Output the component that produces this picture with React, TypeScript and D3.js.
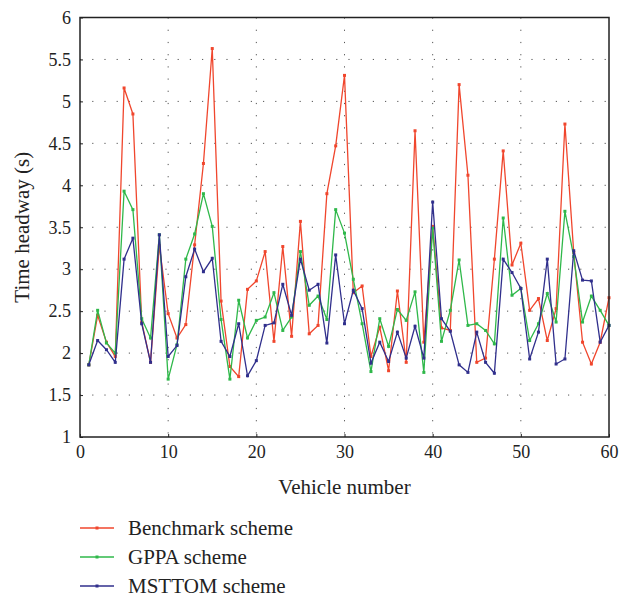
import React, { useEffect, useRef } from 'react';
import * as d3 from 'd3';

const vehicles = d3.range(1, 61);

const benchmark = [
  1.86, 2.45, 2.13, 1.96, 5.16, 4.85, 2.37, 1.89, 3.28, 2.47,
  2.18, 2.34, 3.29, 4.26, 5.63, 2.62, 1.84, 1.72, 2.76, 2.86,
  3.21, 2.14, 3.27, 2.2, 3.57, 2.23, 2.33, 3.9, 4.47, 5.31,
  2.72, 2.8, 1.96, 2.31, 1.79, 2.74, 1.89, 4.65, 2.13, 3.51,
  2.3, 2.27, 5.2, 4.12, 1.89, 1.94, 3.12, 4.41, 3.05, 3.31,
  2.51, 2.65, 2.15, 2.53, 4.73, 3.2, 2.13, 1.87, 2.13, 2.66,
];
const gppa = [
  1.86, 2.51, 2.12, 2.0, 3.93, 3.71, 2.41, 2.18, 3.41, 1.69,
  2.1, 3.12, 3.42, 3.9, 3.51, 2.4, 1.69, 2.63, 2.18, 2.39,
  2.43, 2.72, 2.27, 2.43, 3.21, 2.57, 2.68, 2.4, 3.71, 3.43,
  2.88, 2.35, 1.78, 2.41, 2.08, 2.52, 2.39, 2.73, 1.77, 3.49,
  2.14, 2.51, 3.11, 2.33, 2.35, 2.27, 2.11, 3.61, 2.69, 2.77,
  2.15, 2.35, 2.71, 2.37, 3.69, 3.15, 2.37, 2.68, 2.51, 2.33,
];
const msttom = [
  1.86, 2.15, 2.04, 1.89, 3.12, 3.37, 2.35, 1.89, 3.41, 1.96,
  2.09, 2.91, 3.24, 2.97, 3.13, 2.14, 1.96, 2.35, 1.73, 1.91,
  2.33, 2.36, 2.82, 2.45, 3.12, 2.75, 2.82, 2.12, 3.17, 2.35,
  2.75, 2.53, 1.88, 2.13, 1.9, 2.25, 1.94, 2.32, 1.94, 3.8,
  2.41, 2.26, 1.86, 1.77, 2.25, 1.89, 1.76, 3.12, 2.96, 2.77,
  1.93, 2.25, 3.12, 1.87, 1.93, 3.22, 2.87, 2.86, 2.13, 2.33,
];

const seriesNames = ['Benchmark scheme', 'GPPA scheme', 'MSTTOM scheme'];
const seriesColors = ['#f0462d', '#2fb84a', '#302f8c'];
const xTicks = [0, 10, 20, 30, 40, 50, 60];
const yTicks = [1, 1.5, 2, 2.5, 3, 3.5, 4, 4.5, 5, 5.5, 6];

const W = 634;
const H = 599;
const FONT = '"Liberation Serif", "DejaVu Serif", serif';

const App = () => {
  const svgRef = useRef<SVGSVGElement>(null);

  useEffect(() => {
    const svg = d3.select(svgRef.current);
    svg.selectAll('*').remove();

    const margin = { top: 17.5, right: 25, bottom: 162, left: 80 };
    const innerWidth = W - margin.left - margin.right;
    const innerHeight = H - margin.top - margin.bottom;

    const x = d3.scaleLinear().domain([0, 60]).range([0, innerWidth]);
    const y = d3.scaleLinear().domain([1, 6]).range([innerHeight, 0]);

    const g = svg
      .append('g')
      .attr('transform', `translate(${margin.left},${margin.top})`);

    // dotted grid
    g.append('g')
      .selectAll('line')
      .data(yTicks.slice(1, -1))
      .join('line')
      .attr('x1', 0)
      .attr('x2', innerWidth)
      .attr('y1', (d) => y(d))
      .attr('y2', (d) => y(d))
      .attr('stroke', '#555')
      .attr('stroke-width', 1)
      .attr('stroke-dasharray', '1.2,11');
    g.append('g')
      .selectAll('line')
      .data(xTicks.slice(1, -1))
      .join('line')
      .attr('x1', (d) => x(d))
      .attr('x2', (d) => x(d))
      .attr('y1', 0)
      .attr('y2', innerHeight)
      .attr('stroke', '#555')
      .attr('stroke-width', 1)
      .attr('stroke-dasharray', '1.2,11');

    // series
    const all = [benchmark, gppa, msttom];
    all.forEach((vals, i) => {
      const pts = vals.map((v, j) => ({ n: vehicles[j], v }));
      const line = d3
        .line<{ n: number; v: number }>()
        .x((d) => x(d.n))
        .y((d) => y(d.v));
      g.append('path')
        .datum(pts)
        .attr('fill', 'none')
        .attr('stroke', seriesColors[i])
        .attr('stroke-width', 1.3)
        .attr('d', line);
      g.append('g')
        .selectAll('rect')
        .data(pts)
        .join('rect')
        .attr('x', (d) => x(d.n) - 1.5)
        .attr('y', (d) => y(d.v) - 1.5)
        .attr('width', 3)
        .attr('height', 3)
        .attr('fill', seriesColors[i]);
    });

    // frame
    g.append('rect')
      .attr('width', innerWidth)
      .attr('height', innerHeight)
      .attr('fill', 'none')
      .attr('stroke', '#222')
      .attr('stroke-width', 1.5);

    // axes (ticks inward)
    const xAxis = g
      .append('g')
      .attr('transform', `translate(0,${innerHeight})`)
      .call(d3.axisBottom(x).tickValues(xTicks).tickSize(-3).tickPadding(8));
    const yAxis = g
      .append('g')
      .call(
        d3
          .axisLeft(y)
          .tickValues(yTicks)
          .tickSize(-3)
          .tickPadding(9)
          .tickFormat((d) => String(d))
      );
    [xAxis, yAxis].forEach((a) => {
      a.select('.domain').remove();
      a.selectAll('line').attr('stroke', '#222');
      a.selectAll('text')
        .attr('fill', '#222')
        .style('font-family', FONT)
        .style('font-size', '18px');
    });

    // axis titles
    svg
      .append('text')
      .attr('x', margin.left + innerWidth / 2)
      .attr('y', 494)
      .attr('text-anchor', 'middle')
      .style('font-family', FONT)
      .style('font-size', '21px')
      .attr('fill', '#222')
      .text('Vehicle number');
    svg
      .append('text')
      .attr('transform', `translate(29,${margin.top + innerHeight / 2}) rotate(-90)`)
      .attr('text-anchor', 'middle')
      .style('font-family', FONT)
      .style('font-size', '21px')
      .attr('fill', '#222')
      .text('Time headway (s)');

    // legend
    const lg = svg.append('g').attr('transform', 'translate(80,528)');
    seriesNames.forEach((name, i) => {
      const row = lg.append('g').attr('transform', `translate(0,${i * 29})`);
      row
        .append('line')
        .attr('x1', 0)
        .attr('x2', 34)
        .attr('stroke', seriesColors[i])
        .attr('stroke-width', 1.3);
      row
        .append('rect')
        .attr('x', 15.5)
        .attr('y', -1.5)
        .attr('width', 3)
        .attr('height', 3)
        .attr('fill', seriesColors[i]);
      row
        .append('text')
        .attr('x', 48)
        .attr('y', 7)
        .style('font-family', FONT)
        .style('font-size', '21px')
        .attr('fill', '#222')
        .text(name);
    });
  }, []);

  return (
    <svg
      ref={svgRef}
      width={W}
      height={H}
      style={{ position: 'absolute', left: 0, top: 0, background: '#fff' }}
    ></svg>
  );
};

export default App;
